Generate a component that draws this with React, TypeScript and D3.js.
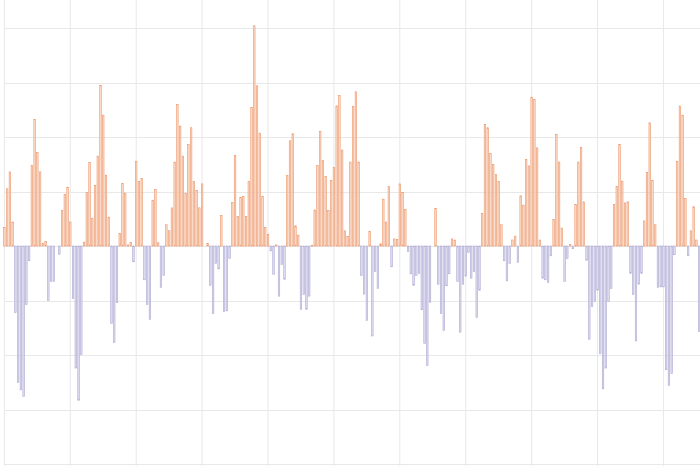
import React from "react";
import * as d3 from "d3";

// Bar values (grid step = 1 unit)
const values: number[] = [
  0.34, 1.05, 1.36, 0.44, -1.22, -2.5, -2.64, -2.76, -1.07, -0.27,
  1.48, 2.32, 1.72, 1.36, 0.05, 0.08, -1.0, -0.65, -0.65, 0,
  -0.15, 0.65, 0.95, 1.08, 0.44, -0.96, -2.24, -2.83, -1.99, 0.07,
  0.98, 1.53, 0.51, 1.11, 1.65, 2.95, 2.4, 1.3, 0.53, -1.42,
  -1.77, -1.04, 0.23, 1.15, 0.97, 0.02, 0.07, -0.29, 1.55, 1.18,
  1.24, -0.62, -1.07, -1.35, 0.84, 1.04, 0.06, -0.76, -0.54, 0.39,
  0.28, 0.7, 1.54, 2.6, 2.2, 1.65, 0.96, 1.86, 2.17, 1.18,
  1.02, 0.7, 1.14, 0, 0.05, -0.72, -1.24, -0.32, -0.42, 0.56,
  -1.2, -1.19, -0.23, 0.8, 1.66, 0.54, 0.89, 0.91, 0.54, 1.18,
  2.54, 4.04, 2.94, 2.07, 0.91, 0.34, 0.21, -0.09, -0.52, 0.02,
  -0.92, -0.34, -0.61, 1.29, 1.93, 2.06, 0.37, 0.2, -1.16, -0.89,
  -1.16, -0.92, 0.01, 0.66, 1.48, 2.1, 1.57, 1.28, 0.65, 1.2,
  1.44, 2.57, 2.76, 1.76, 0.28, 0.18, 1.54, 2.56, 2.83, 1.54,
  -0.54, -0.88, -1.37, 0.27, -1.65, -0.47, -0.78, 0.04, 0.86, 0.44,
  1.09, -0.38, 0.13, 0.12, 1.14, 0.98, 0.67, -0.1, -0.51, -0.72,
  -0.54, -0.5, -1.17, -1.79, -2.19, -1.03, 0, 0.69, -0.7, -1.24,
  -1.55, -0.73, -0.51, 0.13, 0.11, -0.65, -1.58, -0.7, -0.55, -0.12,
  -0.59, -0.47, -1.31, -0.81, 0.6, 2.23, 2.17, 1.7, 1.5, 1.31,
  1.18, 0.39, -0.27, -0.64, -0.32, 0.11, 0.18, -0.3, 0.92, 0.75,
  1.59, 1.47, 2.73, 2.69, 1.8, 0.11, -0.59, -0.62, -0.67, -0.18,
  0.49, 2.05, 1.54, 0.33, -0.65, -0.23, 0.03, -0.05, 0.76, 1.54,
  1.81, 0.81, -0.26, -1.71, -1.11, -1.02, -0.81, -1.97, -2.62, -2.24,
  -1.02, -0.78, 0.76, 1.09, 1.86, 1.19, 0.79, 0.81, -0.5, -0.89,
  -1.74, -0.7, -0.5, 0.46, 1.35, 2.26, 1.2, 0.39, -0.76, -0.75,
  -0.75, -2.27, -2.56, -2.34, -0.16, 1.55, 2.57, 2.4, 0.87, -0.18,
  0.28, 0.72, 0.11, -1.57,
];

const yTicks: number[] = [-4, -3, -2, -1, 0, 1, 2, 3, 4];
const gridEvery = 24;

const W = 700;
const H = 466;

export default function App() {
  const step = 2.746;
  const x0 = 4.4;
  const n = values.length;
  const x = d3.scaleLinear().domain([0, n - 1]).range([x0, x0 + step * (n - 1)]);
  const y = d3.scaleLinear().domain([-4, 4]).range([464, 28]);
  const barW = 1.5;
  const vTicks = d3.range(0, Math.ceil((W - x0) / step) + gridEvery, gridEvery).filter((i) => x(i) <= W);

  return (
    <svg
      width={W}
      height={H}
      style={{ position: "fixed", left: 0, top: 0, background: "#fff" }}
    >
      <g>
        {yTicks.map((t) => (
          <line key={"h" + t} x1={x0} x2={W} y1={Math.round(y(t)) + 0.5} y2={Math.round(y(t)) + 0.5} stroke="#e8e8e8" strokeWidth={1} />
        ))}
        {vTicks.map((i) => (
          <line key={"v" + i} x1={x(i)} x2={x(i)} y1={0} y2={H} stroke="#e8e8e8" strokeWidth={1} />
        ))}
      </g>
      <g>
        {values.map((v, i) => {
          if (v === 0) return null;
          const pos = v > 0;
          const top = y(Math.max(0, v));
          const h = Math.abs(y(v) - y(0));
          return (
            <rect
              key={i}
              x={x(i) - barW / 2}
              y={top}
              width={barW}
              height={h}
              fill={pos ? "#fbe0d0" : "#e2e0f1"}
              stroke={pos ? "#ec9366" : "#aaa6d2"}
              strokeWidth={0.6}
            />
          );
        })}
      </g>
    </svg>
  );
}
